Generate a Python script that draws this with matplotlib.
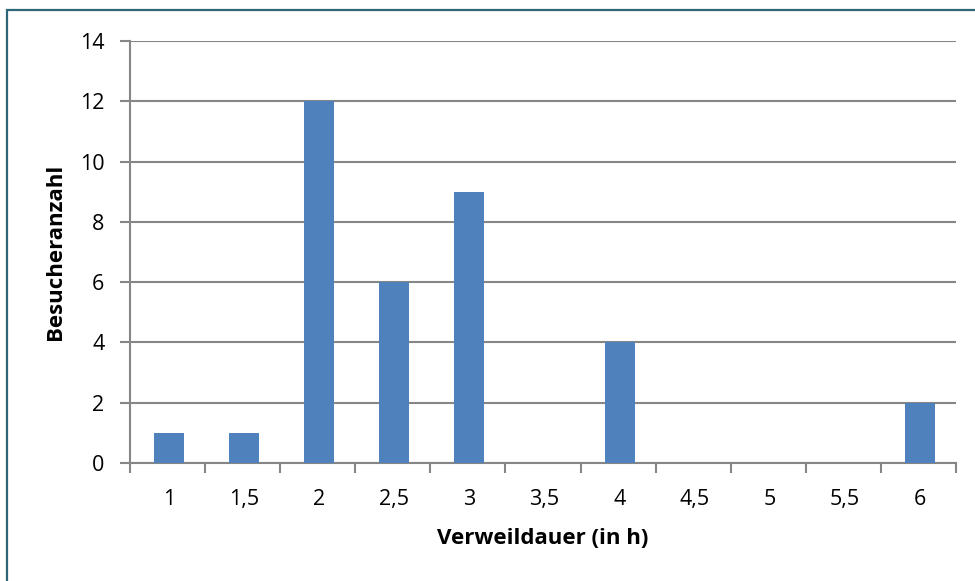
import matplotlib
matplotlib.use("Agg")
import matplotlib.pyplot as plt
from matplotlib.patches import Rectangle
import numpy as np

categories = ["1", "1,5", "2", "2,5", "3", "3,5", "4", "4,5", "5", "5,5", "6"]
values = [1, 1, 12, 6, 9, 0, 4, 0, 0, 0, 2]
yticks = [0, 2, 4, 6, 8, 10, 12, 14]

plt.rcParams['font.family'] = ['Open Sans', 'DejaVu Sans']

W, H = 975, 581
fig = plt.figure(figsize=(W / 100, H / 100), dpi=100)
fig.patch.set_facecolor('white')

# outer border
fig.patches.append(Rectangle((7 / W, -0.1), 1.0, (H - 10) / H + 0.1,
                             transform=fig.transFigure, fill=False,
                             edgecolor='#2E6878', linewidth=1.6, clip_on=False))

left, right, top, bottom = 130, 956, 41, 463
ax = fig.add_axes([left / W, (H - bottom) / H, (right - left) / W, (bottom - top) / H])

x = np.arange(len(categories))
ax.bar(x + 0.02, values, width=0.4, color='#4F81BD', zorder=3)

ax.set_xlim(-0.5, len(categories) - 0.5)
ax.set_ylim(0, 14)
ax.set_yticks(yticks)
ax.set_yticklabels([str(v) for v in yticks], fontsize=15.5)
ax.set_xticks(x + 0.02)
ax.set_xticklabels(categories, fontsize=15.5)
ax.set_xticks(np.arange(-0.5, len(categories), 1.0), minor=True)
ax.tick_params(axis='x', which='major', length=0, pad=19)
ax.tick_params(axis='x', which='minor', length=7, width=1.5, color='#868686', direction='out')
ax.tick_params(axis='y', which='major', length=7, width=1.5, color='#868686', direction='out', pad=11.5)

ax.grid(axis='y', color='#868686', linewidth=1.5, zorder=0)
ax.set_axisbelow(True)
for s in ['top', 'right']:
    ax.spines[s].set_visible(False)
for s in ['left', 'bottom']:
    ax.spines[s].set_color('#868686')
    ax.spines[s].set_linewidth(1.5)

ax.set_xlabel('Verweildauer (in h)', fontsize=16, fontweight='bold', labelpad=12.5)
ax.set_ylabel('Besucheranzahl', fontsize=16, fontweight='bold', labelpad=10)

fig.savefig('out.png', dpi=100)
